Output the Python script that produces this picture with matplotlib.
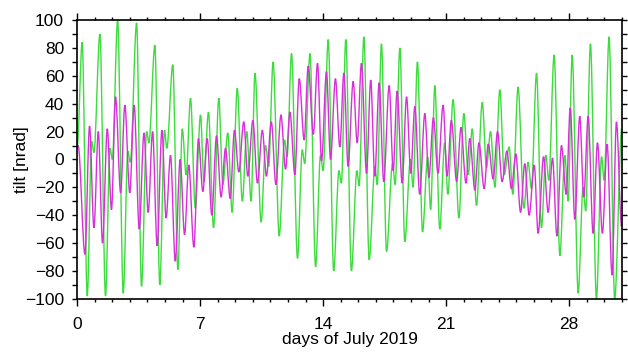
import matplotlib
matplotlib.use("Agg")
import matplotlib.pyplot as plt
from matplotlib.ticker import MultipleLocator
from matplotlib.path import Path
from matplotlib.patches import PathPatch
import numpy as np

plt.rcParams['font.family'] = ['Liberation Sans', 'DejaVu Sans']

# tilt extrema (day of July, nrad)
green_pts = [(0.00, 9), (0.28, 84), (0.57, -98), (0.82, 13), (0.95, 5), (1.29, 90), (1.61, -98),
             (1.86, 8), (2.00, 0), (2.30, 100), (2.62, -96), (2.88, 6), (3.02, -2), (3.38, 98),
             (3.66, -91), (3.95, 20), (4.08, 12), (4.42, 82), (4.70, -90), (4.97, 21), (5.10, 8),
             (5.44, 68), (5.73, -79), (5.98, 22), (6.20, -11), (6.45, 44), (6.72, -35), (7.02, 32),
             (7.21, -16), (7.47, 34), (7.76, -49), (8.06, 44), (8.29, -18), (8.57, 19), (8.82, -38),
             (9.11, 51), (9.40, -30), (9.65, 20), (9.90, -30), (10.12, 62), (10.47, -45), (10.72, 10),
             (10.90, -5), (11.15, 70), (11.50, -55), (11.80, 14), (11.95, 2), (12.20, 76), (12.54, -71),
             (12.81, 7), (12.95, -3), (13.25, 76), (13.57, -77), (13.85, 3), (14.00, -8), (14.29, 86),
             (14.60, -80), (14.90, -8), (15.04, -17), (15.29, 86), (15.61, -80), (15.92, -8), (16.05, -19),
             (16.32, 88), (16.62, -72), (16.95, -5), (17.08, -18), (17.32, 83), (17.61, -66), (17.95, -3),
             (18.10, -18), (18.37, 80), (18.65, -59), (18.97, 0), (19.12, -20), (19.37, 70), (19.66, -52),
             (19.95, 2), (20.12, -36), (20.36, 53), (20.64, -50), (20.92, 12), (21.10, -25), (21.40, 43),
             (21.73, -42), (22.01, 33), (22.26, -11), (22.49, 22), (22.73, -33), (23.06, 41), (23.30, -6),
             (23.53, 20), (23.78, -20), (24.06, 50), (24.31, -11), (24.59, 9), (24.80, -25), (25.10, 52),
             (25.43, -35), (25.67, -2), (25.86, -21), (26.15, 62), (26.43, -49), (26.68, 3), (26.85, -15),
             (27.15, 75), (27.48, -69), (27.76, 3), (27.95, -30), (28.18, 75), (28.52, -96), (28.80, -20),
             (28.95, -37), (29.22, 83), (29.56, -100), (29.85, 2), (30.00, -15), (30.28, 88), (30.60, -100),
             (31.00, 22)]

magenta_pts = [(0.00, 8), (0.05, 10), (0.44, -68), (0.70, 24), (0.95, -49), (1.20, 20), (1.44, -60),
               (1.71, 22), (1.95, -36), (2.18, 45), (2.47, -24), (2.71, 39), (2.99, -24), (3.24, 39),
               (3.53, -50), (3.80, 19), (4.04, -38), (4.29, 20), (4.55, -62), (4.82, 21), (5.06, -42),
               (5.31, 3), (5.58, -73), (5.86, 0), (6.11, -54), (6.35, -4), (6.64, -63), (6.90, 15),
               (7.15, -23), (7.40, 15), (7.66, -40), (7.93, 17), (8.19, -27), (8.44, 8), (8.71, -28),
               (8.95, 21), (9.20, -9), (9.48, 27), (9.71, -12), (10.00, 28), (10.26, -17), (10.54, 21),
               (10.77, -12), (11.05, 27), (11.31, -18), (11.60, 32), (11.86, -7), (12.11, 34), (12.39, -11),
               (12.64, 58), (12.92, 14), (13.15, 67), (13.44, 18), (13.68, 69), (13.91, -1), (14.19, 63),
               (14.42, 0), (14.70, 58), (14.95, 9), (15.18, 62), (15.42, -5), (15.71, 56), (15.94, 12),
               (16.18, 69), (16.47, -10), (16.71, 57), (16.94, -12), (17.19, 55), (17.45, -16), (17.76, 53),
               (17.99, -8), (18.21, 49), (18.50, -17), (18.75, 45), (18.99, -10), (19.22, 38), (19.50, -25),
               (19.79, 33), (20.02, -13), (20.28, 30), (20.54, -10), (20.83, 39), (21.06, -12), (21.30, 28),
               (21.60, -16), (21.85, 23), (22.13, -17), (22.35, 15), (22.64, -22), (22.87, 12), (23.17, -21),
               (23.40, 11), (23.68, -14), (23.93, 20), (24.19, -16), (24.46, 6), (24.72, -21), (24.97, 4),
               (25.24, -38), (25.48, -3), (25.73, -40), (26.02, -4), (26.24, -53), (26.55, 2), (26.81, -38),
               (27.06, 1), (27.31, -55), (27.57, 10), (27.84, -25), (28.07, 37), (28.33, -43), (28.61, 31),
               (28.84, -27), (29.09, 31), (29.37, -53), (29.62, 12), (29.90, -53), (30.17, 11), (30.45, -83),
               (30.70, 27), (30.99, -48)]

green_t, green_v = np.array(green_pts).T
mag_t, mag_v = np.array(magenta_pts).T


def tide_path(t, v):
    # cubic segments between extrema, flat tangent at each turning point
    verts = [(t[0], v[0])]
    codes = [Path.MOVETO]
    for i in range(len(t) - 1):
        h = (t[i + 1] - t[i]) / 3.0
        verts += [(t[i] + h, v[i]), (t[i + 1] - h, v[i + 1]), (t[i + 1], v[i + 1])]
        codes += [Path.CURVE4] * 3
    return Path(verts, codes)


fig = plt.figure(figsize=(6.28, 3.52), dpi=100)
ax = fig.add_axes([0.123, 0.151, 0.867, 0.792])

ax.add_patch(PathPatch(tide_path(green_t, green_v), fill=False, edgecolor="#3ddc3d", lw=1.0))
ax.add_patch(PathPatch(tide_path(mag_t, mag_v), fill=False, edgecolor="#d92ed9", lw=1.0))

ax.set_xlim(0, 31)
ax.set_ylim(-100, 100)
ax.set_xticks([0, 7, 14, 21, 28])
ax.xaxis.set_minor_locator(MultipleLocator(1))
ax.set_yticks(np.arange(-100, 101, 20))
ax.yaxis.set_minor_locator(MultipleLocator(10))

ax.tick_params(which="both", direction="out", top=True, right=True, width=1.0, labelsize=12.5)
ax.tick_params(axis="x", which="major", length=5, pad=8)
ax.tick_params(axis="x", which="minor", length=2.5)
ax.tick_params(axis="y", which="both", length=3.5, pad=6)
for s in ax.spines.values():
    s.set_linewidth(1.2)

ax.set_xlabel("days of July 2019", fontsize=12.5, labelpad=0)
ax.set_ylabel("tilt [nrad]", fontsize=12.5, labelpad=-3)

plt.savefig("out.png", dpi=100)
